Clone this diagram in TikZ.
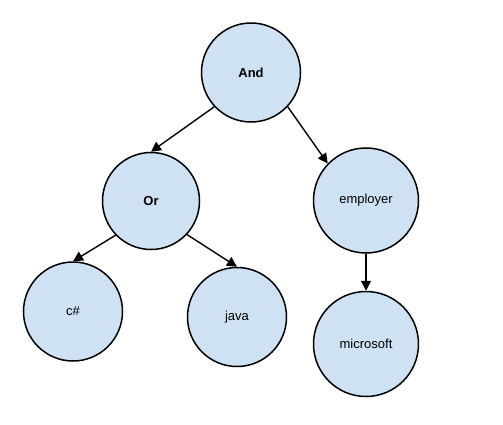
\documentclass[tikz,border=0pt]{standalone}
\usepackage{fontspec}
\setmainfont{Liberation Sans}
\usetikzlibrary{arrows.meta}
\definecolor{nodeblue}{RGB}{207,226,243}
\begin{document}
\begin{tikzpicture}[x=1pt,y=-1pt,
  tnode/.style={circle, draw, line width=1.5pt, fill=nodeblue, minimum size=#1, inner sep=0pt, font=\fontsize{13}{15}\selectfont},
  tnode/.default=99pt,
  arr/.style={line width=1.4pt, -{Triangle[length=10pt,width=10pt]}}]
\useasboundingbox (0,0) rectangle (503,425);
\node[tnode] (nand) at (251,72.5){\textbf{And}};
\node[tnode=97pt] (nor) at (151,201){\textbf{Or}};
\node[tnode=105pt] (nemployer) at (366,200.5){employer};
\node[tnode] (ncs) at (73,311.5){c\#};
\node[tnode] (njava) at (237,317){java};
\node[tnode=105pt] (nmicrosoft) at (366,344){microsoft};
\draw[arr](nand.-137) -- (nor.north);
\draw[arr](nand.-43) -- (nemployer.136);
\draw[arr](nor.-136) -- (ncs.north);
\draw[arr](nor.-43) -- (njava.north);
\draw[arr](nemployer.south) -- (nmicrosoft.north);

\end{tikzpicture}
\end{document}
